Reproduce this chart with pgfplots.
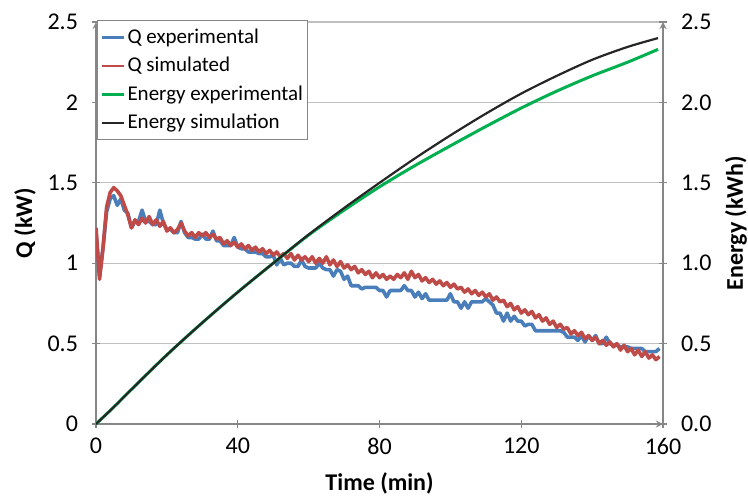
\documentclass[border=0pt]{standalone}
\usepackage{fontspec}
\setmainfont{Carlito}
\usepackage{pgfplots}
\usepackage{pgfplotstable}
\pgfplotsset{compat=1.18}

\definecolor{qexp}{RGB}{74,126,187}
\definecolor{qsim}{RGB}{190,75,72}
\definecolor{eexp}{RGB}{0,176,80}
\definecolor{esim}{RGB}{38,38,38}
\definecolor{gridgray}{RGB}{192,192,192}
\definecolor{axisgray}{RGB}{134,134,134}

% Q experimental (kW) vs time (min)
\pgfplotstableread{
t q
0 1.20
1 0.92
2 1.10
3 1.32
4 1.40
5 1.42
6 1.36
7 1.40
8 1.33
9 1.31
10 1.22
11 1.26
12 1.26
13 1.33
14 1.26
15 1.26
16 1.24
17 1.24
18 1.33
19 1.25
20 1.21
21 1.21
22 1.19
23 1.19
24 1.26
25 1.19
26 1.16
27 1.16
28 1.15
29 1.15
30 1.18
31 1.15
32 1.15
33 1.20
34 1.14
35 1.14
36 1.11
37 1.11
38 1.11
39 1.16
40 1.10
41 1.09
42 1.09
43 1.07
44 1.07
45 1.07
46 1.06
47 1.06
48 1.04
49 1.04
50 1.05
51 0.99
52 1.03
53 0.99
54 1.00
55 1.00
56 0.98
57 0.98
58 1.02
59 0.98
60 0.97
61 0.97
62 0.97
63 1.00
64 0.97
65 0.96
66 0.96
67 0.92
68 0.96
69 0.95
70 0.90
71 0.92
72 0.86
73 0.86
74 0.86
75 0.84
76 0.85
77 0.85
78 0.85
79 0.85
80 0.83
81 0.83
82 0.79
83 0.83
84 0.83
85 0.83
86 0.83
87 0.86
88 0.83
89 0.83
90 0.79
91 0.82
92 0.78
93 0.81
94 0.77
95 0.77
96 0.77
97 0.77
98 0.77
99 0.77
100 0.81
101 0.76
102 0.76
103 0.72
104 0.76
105 0.72
106 0.76
107 0.76
108 0.76
109 0.76
110 0.78
111 0.76
112 0.74
113 0.69
114 0.69
115 0.64
116 0.69
117 0.64
118 0.67
119 0.64
120 0.64
121 0.61
122 0.62
123 0.62
124 0.58
125 0.58
126 0.58
127 0.58
128 0.58
129 0.58
130 0.58
131 0.58
132 0.57
133 0.54
134 0.54
135 0.54
136 0.52
137 0.55
138 0.51
139 0.55
140 0.52
141 0.55
142 0.50
143 0.50
144 0.54
145 0.50
146 0.49
147 0.49
148 0.48
149 0.48
150 0.48
151 0.47
152 0.47
153 0.47
154 0.47
155 0.45
156 0.45
157 0.45
158 0.45
159 0.47
}\qexptab

% Q simulated (kW)
\pgfplotstableread{
t q
0 1.22
1 0.90
2 1.10
3 1.35
4 1.44
5 1.47
6 1.45
7 1.42
8 1.36
9 1.30
10 1.22
11 1.27
12 1.24
13 1.28
14 1.25
15 1.29
16 1.24
17 1.27
18 1.23
19 1.26
20 1.20
21 1.22
22 1.19
23 1.21
24 1.25
25 1.20
26 1.17
27 1.19
28 1.16
29 1.19
30 1.17
31 1.19
32 1.16
33 1.18
34 1.15
35 1.16
36 1.12
37 1.14
38 1.11
39 1.13
40 1.10
41 1.12
42 1.09
43 1.11
44 1.08
45 1.10
46 1.07
47 1.09
48 1.06
49 1.08
50 1.05
51 1.07
52 1.04
53 1.06
54 1.03
55 1.06
56 1.02
57 1.05
58 1.02
59 1.04
60 1.01
61 1.04
62 1.00
63 1.03
64 1.00
65 1.04
66 0.99
67 1.02
68 0.98
69 1.01
70 0.97
71 0.99
72 0.96
73 0.98
74 0.94
75 0.96
76 0.93
77 0.95
78 0.91
79 0.94
80 0.91
81 0.93
82 0.90
83 0.92
84 0.90
85 0.93
86 0.91
87 0.94
88 0.90
89 0.95
90 0.91
91 0.93
92 0.89
93 0.91
94 0.88
95 0.90
96 0.87
97 0.89
98 0.86
99 0.88
100 0.85
101 0.87
102 0.84
103 0.85
104 0.82
105 0.84
106 0.81
107 0.83
108 0.80
109 0.82
110 0.79
111 0.81
112 0.77
113 0.79
114 0.76
115 0.77
116 0.73
117 0.75
118 0.71
119 0.73
120 0.69
121 0.71
122 0.68
123 0.70
124 0.66
125 0.68
126 0.64
127 0.66
128 0.62
129 0.64
130 0.60
131 0.62
132 0.59
133 0.60
134 0.56
135 0.58
136 0.55
137 0.57
138 0.53
139 0.55
140 0.52
141 0.54
142 0.50
143 0.52
144 0.49
145 0.51
146 0.48
147 0.50
148 0.46
149 0.49
150 0.45
151 0.47
152 0.43
153 0.46
154 0.42
155 0.45
156 0.41
157 0.43
158 0.40
159 0.42
}\qsimtab

% Energy (kWh): experimental and simulation
\pgfplotstableread{
t eexp esim
0 0 0
5 0.105 0.105
10 0.215 0.215
20 0.43 0.43
30 0.63 0.63
40 0.82 0.82
50 1.00 1.00
60 1.175 1.178
70 1.33 1.343
80 1.475 1.50
90 1.607 1.652
100 1.73 1.795
110 1.85 1.93
120 1.965 2.055
130 2.07 2.165
140 2.165 2.265
150 2.25 2.345
158.6 2.33 2.40
}\energytab

\begin{document}
\begin{tikzpicture}
\pgfplotsset{
  every axis/.append style={
    scale only axis, width=283.5pt, height=201pt,
    xmin=0, xmax=160, ymin=0, ymax=2.5,
    axis line style={draw=axisgray, line width=0.6pt, -},
    tick style={draw=axisgray, line width=0.6pt},
    tick align=outside, major tick length=4pt,
    /pgf/number format/assume math mode=true,
    tick label style={font=\fontsize{12}{14}\selectfont},
  },
}
\begin{axis}[
    name=ax,
    axis x line=bottom, axis y line=left,
    xtick={0,40,80,120,160},
    ytick={0,0.5,1,1.5,2,2.5},
    ymajorgrids, grid style={draw=gridgray, line width=0.6pt},
    xticklabel style={yshift=-1.5pt},
    yticklabel style={xshift=-3.5pt},
    every axis x label/.style={at={(axis description cs:0.5,0)}, yshift=-29.5pt, anchor=center,
      font=\fontsize{12}{14}\selectfont\bfseries},
    every axis y label/.style={at={(axis description cs:0,0.5)}, xshift=-35.5pt, rotate=90, anchor=center,
      font=\fontsize{12}{14}\selectfont\bfseries},
    xlabel={Time (min)},
    ylabel={Q (kW)},
  ]
\addplot[qexp, line width=1.8pt, line join=round] table[x=t, y=q] {\qexptab};
\addplot[qsim, line width=1.8pt, line join=round] table[x=t, y=q] {\qsimtab};
\end{axis}
\begin{axis}[
    axis x line=none, axis y line=right,
    ytick={0,0.5,1,1.5,2,2.5},
    yticklabel style={xshift=3.5pt, /pgf/number format/.cd, fixed, fixed zerofill, precision=1},
    every axis y label/.style={at={(axis description cs:1,0.5)}, xshift=36.5pt, rotate=90, anchor=center,
      font=\fontsize{12}{14}\selectfont\bfseries},
    ylabel={Energy (kWh)},
    legend cell align=left,
    legend style={at={(axis description cs:0,1)}, anchor=north west, xshift=0.5pt, yshift=1pt,
      draw=axisgray, line width=0.5pt, fill=white,
      font=\fontsize{10.5}{12}\selectfont, row sep=1.5pt,
      inner xsep=1.5pt, inner ysep=2pt,
      nodes={inner xsep=1pt}},
    legend image code/.code={\draw[#1] (0pt,0pt) -- (11pt,0pt);},
  ]
\addlegendimage{qexp, line width=1.2pt}
\addlegendentry{Q experimental}
\addlegendimage{qsim, line width=1.2pt}
\addlegendentry{Q simulated}
\addplot[eexp, line width=1.5pt, smooth] table[x=t, y=eexp] {\energytab};
\addlegendentry{Energy experimental}
\addplot[esim, line width=1.1pt, smooth] table[x=t, y=esim] {\energytab};
\addlegendentry{Energy simulation}
\end{axis}
\pgfresetboundingbox
\path (ax.south west) ++(-48pt,-35.5pt) rectangle ++(374pt,247.5pt);
\end{tikzpicture}
\end{document}
